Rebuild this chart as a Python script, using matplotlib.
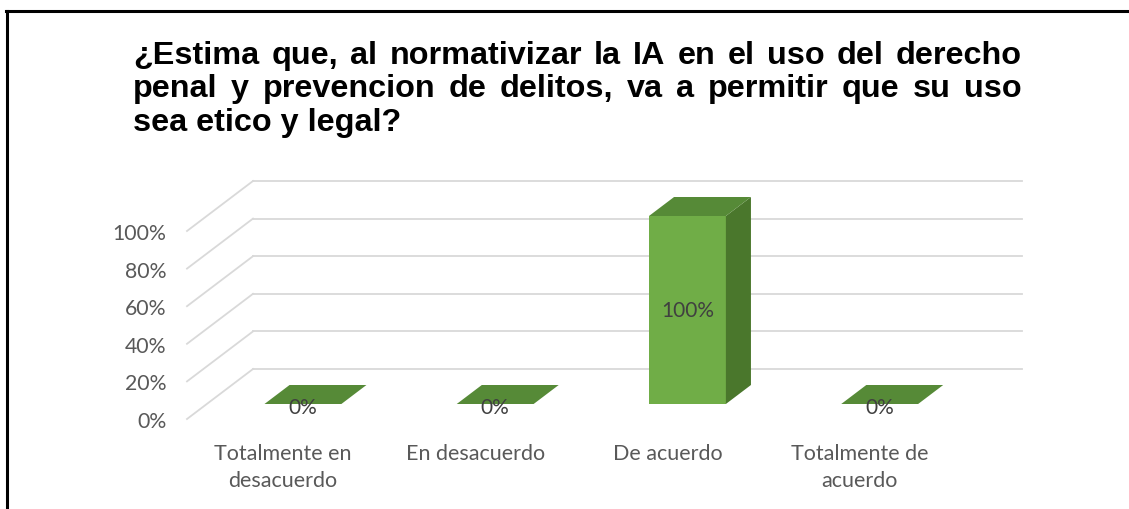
import numpy as np
import matplotlib.pyplot as plt
from matplotlib.patches import Polygon
from matplotlib.lines import Line2D

categories = ['Totalmente en\ndesacuerdo', 'En desacuerdo', 'De acuerdo', 'Totalmente de\nacuerdo']
values = [0, 0, 100, 0]
yticks = [0, 20, 40, 60, 80, 100]
title_lines = ['¿Estima que, al normativizar la IA en el uso del derecho',
               'penal y prevencion de delitos, va a permitir que su uso',
               'sea etico y legal?']

W, H = 1129, 510
fig = plt.figure(figsize=(W / 100, H / 100), dpi=100)

# front plane of the 3d box, in pixels
left, right, bottom, top = 187, 956, 420, 232
ax = fig.add_axes([left / W, 1 - bottom / H, (right - left) / W, (bottom - top) / H])
ax.set_xlim(0, 4)
ax.set_ylim(0, 100)

# depth of the box in data units (66 px right, 50 px up)
DX = 66 / ((right - left) / 4)
DY = 50 / ((bottom - top) / 100)

grid = '#d9d9d9'
for v in yticks:
    ax.plot([DX, 4 + DX], [v + DY, v + DY], color=grid, lw=1.3, clip_on=False, zorder=1)
    ax.plot([0, DX], [v, v + DY], color=grid, lw=1.3, clip_on=False, zorder=1)

c_front = '#70ad47'
c_top = '#568a37'
c_side = '#4a772c'
bw = 0.4
d0, d1 = 0.3, 0.68
for i, v in enumerate(values):
    c = i + 0.5
    x0, x1 = c - bw / 2, c + bw / 2
    fx0, fx1, fy = x0 + d0 * DX, x1 + d0 * DX, d0 * DY
    bx0, bx1, by = x0 + d1 * DX, x1 + d1 * DX, d1 * DY
    if v > 0:
        ax.add_patch(Polygon([(fx0, fy), (fx1, fy), (fx1, fy + v), (fx0, fy + v)],
                             closed=True, fc=c_front, ec='none', clip_on=False, zorder=3))
        ax.add_patch(Polygon([(fx1, fy), (bx1, by), (bx1, by + v), (fx1, fy + v)],
                             closed=True, fc=c_side, ec='none', clip_on=False, zorder=3))
    ax.add_patch(Polygon([(fx0, fy + v), (fx1, fy + v), (bx1, by + v), (bx0, by + v)],
                         closed=True, fc=c_top, ec='none', clip_on=False, zorder=3))
    ly = fy + v / 2 if v > 0 else fy - 1.5
    ax.text((fx0 + fx1) / 2, ly, f'{v}%', ha='center', va='center',
            fontsize=15, family='Lato', color='#404040', zorder=4)

for s in ax.spines.values():
    s.set_visible(False)
ax.set_yticks(yticks)
ax.set_yticklabels([f'{v}%' for v in yticks], family='Lato', fontsize=15.3, color='#595959')
ax.set_xticks([i + 0.5 for i in range(len(categories))])
ax.set_xticklabels(categories, family='Lato', fontsize=15.5, color='#595959', linespacing=1.4)
ax.tick_params(length=0)
ax.tick_params(axis='y', pad=15)
ax.tick_params(axis='x', pad=17.5)
ax.patch.set_visible(False)

# justified bold title
renderer = fig.canvas.get_renderer()
tx0, tx1 = 133, 1022
baselines = [64, 97, 130.5]
tsize = 23.3
for k, line in enumerate(title_lines):
    yb = 1 - baselines[k] / H
    if k == len(title_lines) - 1:
        fig.text(tx0 / W, yb, line, family='Liberation Sans', weight='bold',
                 fontsize=tsize, va='baseline', ha='left')
        continue
    words = line.split(' ')
    texts = [fig.text(0, yb, w, family='Liberation Sans', weight='bold',
                      fontsize=tsize, va='baseline', ha='left') for w in words]
    widths = [t.get_window_extent(renderer).width for t in texts]
    gap = (tx1 - tx0 - sum(widths)) / (len(words) - 1)
    x = tx0
    for t, w in zip(texts, widths):
        t.set_x(x / W)
        x += w + gap

# outer frame (only top and left edges visible)
fig.add_artist(Line2D([6 / W, 1], [1 - 11.5 / H, 1 - 11.5 / H], color='black', lw=2.2))
fig.add_artist(Line2D([7 / W, 7 / W], [0, 1 - 11.5 / H], color='black', lw=2.2))

fig.savefig('out.png', dpi=100)
